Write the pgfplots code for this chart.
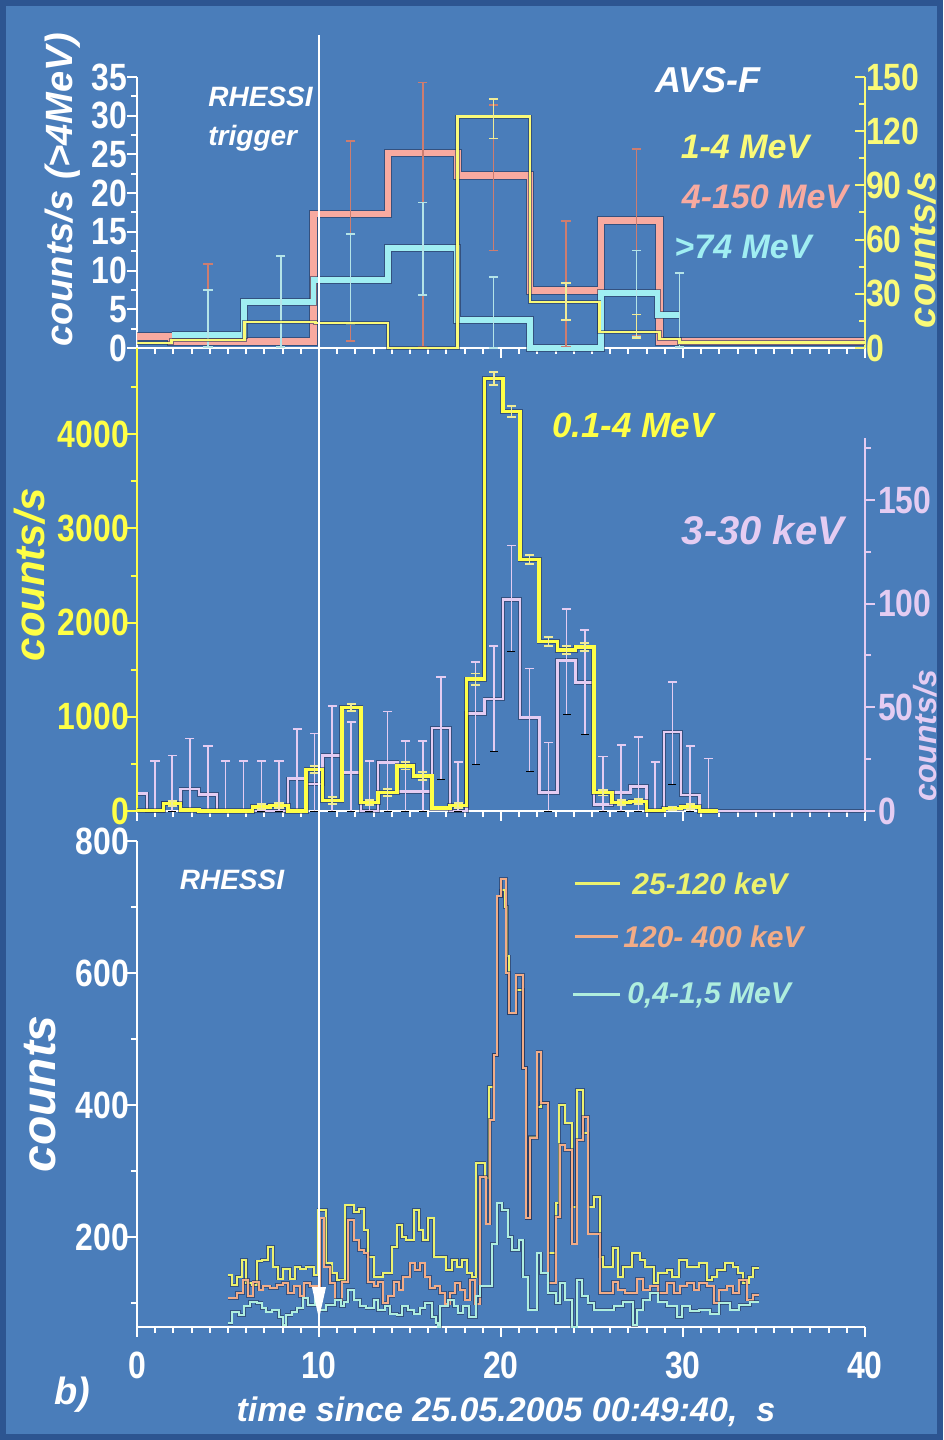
\documentclass[border=0pt]{standalone}
\usepackage{fontspec}
\setmainfont{Liberation Sans}
\newfontfamily\cnd{Liberation Sans}[FakeStretch=0.84]
\usepackage{pgfplots}
\usepackage{pgfplotstable}
\pgfplotsset{compat=1.18}
\usetikzlibrary{arrows.meta}

\definecolor{bgblue}{RGB}{74,125,186}
\definecolor{edgeblue}{RGB}{45,85,145}
\definecolor{avsred}{RGB}{248,170,160}
\definecolor{avscyan}{RGB}{160,238,242}
\definecolor{avsyellow}{RGB}{250,250,120}
\definecolor{errred}{RGB}{205,125,112}
\definecolor{errcyan}{RGB}{180,228,232}
\definecolor{erryellow}{RGB}{240,235,150}
\definecolor{hxyellow}{RGB}{255,255,70}
\definecolor{hxlav}{RGB}{228,204,242}
\definecolor{ryellow}{RGB}{236,242,110}
\definecolor{rorange}{RGB}{242,172,135}
\definecolor{rcyan}{RGB}{175,238,222}
\definecolor{shade}{RGB}{35,45,80}

% ---------- AVS-F, 4 s bins (left edge, rate) ----------
\pgfplotstableread{
x y
0 1.5
1.9 0.8
9.7 17.3
13.8 25.2
17.6 22.3
21.6 7.4
25.5 16.5
28.7 0.8
40 0.8
}\avsHigh
\pgfplotstableread{
x y
1.9 1.7
5.9 5.9
9.7 8.8
13.8 12.9
17.6 3.6
21.6 0
25.5 7.1
28.6 4.3
29.8 4.3
}\avsTop
\pgfplotstableread{
x y
0 2.8
1.9 4.4
5.9 14.4
9.8 13.8
13.8 0
17.6 128
21.6 25.5
25.4 8.9
28.7 5
29.8 3
40 3
}\avsLow
% error bars: centre, mid value, half length
\pgfplotstableread{
x y e
3.9 5.5 5.3
11.74 13.8 12.9
15.7 17.2 17.1
19.58 22.0 9.4
23.57 8.3 8.1
27.45 13.6 12.1
}\avsHighErr
\pgfplotstableread{
x y e
3.9 3.8 3.7
7.9 6.0 5.9
11.74 8.9 5.8
15.7 12.8 6.0
19.58 4.6 4.6
27.45 7.0 5.6
29.8 4.9 4.8
}\avsTopErr
\pgfplotstableread{
x y e
19.58 127 11
23.57 25.7 10.3
27.45 12 6.5
}\avsLowErr

% ---------- 0.1-4 MeV and 3-30 keV, 1 s bins ----------
\pgfplotstableread{
x y
0 5
1.45 80
2.4 10
3.4 0
6.35 45
7.3 60
8.3 0
9.3 440
10.2 110
11.25 1100
12.3 90
13.25 195
14.3 480
15.2 370
16.2 30
17.2 60
18.1 1400
19.1 4590
20.1 4240
21.05 2670
22.1 1800
23.1 1710
24.1 1740
25.1 195
26.1 90
27.1 100
28.0 5
28.95 28
29.9 45
30.9 0
31.9 0
}\hard
\pgfplotstableread{
x y e
1.93 80 30
6.83 45 25
7.8 60 25
9.75 440 40
10.72 110 35
11.77 1100 40
12.77 90 30
13.77 195 35
14.75 480 40
15.7 370 40
17.65 60 25
18.6 1400 60
19.6 4590 70
20.57 4240 60
21.57 2670 50
22.6 1800 45
23.6 1710 45
24.6 1740 45
25.6 195 30
26.6 90 25
27.55 100 25
29.42 28 20
30.4 45 25
}\hardErr
\pgfplotstableread{
x y
0 8.3
0.55 0
1.45 3.9
2.4 10.7
3.4 8
4.4 0
8.3 15.6
9.3 13
10.2 26.8
11.25 18.5
12.3 0
13.25 23.5
14.3 9.3
15.2 9.3
16.2 40
17.2 0
18.1 47
19.1 54
20.1 102
21.05 45
22.1 8.9
23.1 72.7
24.1 62
25.1 3
26.1 8.8
27.1 11.8
28.0 0
28.95 38
29.9 7.8
30.9 0
40 0
}\soft
\pgfplotstableread{
x y e
0.99 12 12
1.93 13.4 13.4
2.9 17.5 17.5
3.9 15.65 15.65
4.87 12 12
5.85 12 12
6.83 12 12
7.8 12 12
8.8 19.75 19.75
9.75 18.7 18.7
10.72 25.4 25.4
11.77 21.4 21.4
12.77 12 12
13.77 24 24
14.75 16.8 16.8
15.7 16.8 16.8
16.7 39.9 24.6
17.65 11.75 11.75
18.6 47.2 24.8
19.6 54.15 25.25
20.57 102.5 25.5
21.57 43.85 24.85
22.6 16.5 16.5
23.6 72.2 25.4
24.6 62.15 25.15
25.6 13.15 13.15
26.6 16 16
27.55 17.75 17.75
28.47 11.75 11.75
29.42 37.5 24.8
30.4 15.65 15.65
31.4 12.65 12.65
}\softErr

% ---------- RHESSI count rates ----------
\pgfplotstableread{
x y
5.0 142
5.2 127
5.5 140
5.75 165
6.0 130
6.3 127
6.6 163
6.85 165
7.2 185
7.5 155
7.75 137
8.0 152
8.4 137
8.7 155
8.95 152
9.3 155
9.7 142
9.96 241
10.4 160
10.7 145
11.0 135
11.45 248
11.9 238
12.2 243
12.5 210
12.7 170
13.0 140
13.5 145
14.0 185
14.3 218
14.55 200
14.8 195
15.2 241
15.5 210
15.7 195
16.0 228
16.3 170
16.65 170
17.0 150
17.3 165
17.6 155
17.85 165
18.15 145
18.4 140
18.65 312
19.1 290
19.35 428
19.6 476
19.8 716
20.0 725
20.2 700
20.35 625
20.45 539
20.85 574
21.2 456
21.4 228
21.6 352
22.0 397
22.2 403
22.6 175
23.0 251
23.2 400
23.5 372
23.9 246
24.15 423
24.5 357
24.8 246
25.1 261
25.45 170
25.6 155
26.15 183
26.45 140
26.7 155
27.2 175
27.65 165
27.9 155
28.4 130
28.65 145
29.1 150
29.4 140
29.8 165
30.2 155
30.9 160
31.3 135
31.6 140
31.85 150
32.3 160
32.75 155
33.0 145
33.3 130
33.6 140
33.85 153
34.15 153
}\rLow
\pgfplotstableread{
x y
5.0 107
5.5 115
5.85 135
6.1 110
6.4 132
6.7 120
6.9 125
7.3 122
7.7 127
8.0 130
8.3 115
8.6 125
8.95 110
9.2 130
9.5 125
9.9 110
10.05 228
10.3 155
10.6 130
10.9 105
11.25 132
11.6 226
11.9 195
12.2 180
12.5 175
12.7 132
13.0 125
13.25 132
13.5 100
13.8 110
14.1 132
14.4 120
14.6 140
15.0 160
15.3 150
15.55 160
15.8 140
16.1 122
16.4 125
16.65 115
16.95 99
17.2 115
17.5 130
17.75 120
18.0 105
18.3 135
18.55 99
18.85 291
19.2 220
19.4 377
19.6 476
19.8 716
20.0 743
20.3 600
20.45 539
20.85 597
21.2 456
21.4 228
21.6 350
22.0 481
22.2 403
22.6 130
23.0 230
23.25 340
23.5 332
23.9 190
24.15 347
24.5 382
24.8 205
25.1 205
25.45 115
26.15 132
26.45 120
26.8 115
27.45 137
27.8 120
28.2 125
28.65 115
29.1 130
29.5 115
29.85 125
30.2 130
30.6 120
30.9 130
31.3 125
31.7 100
32.0 120
32.4 125
32.75 115
33.1 135
33.5 105
33.85 112
34.15 112
}\rMid
\pgfplotstableread{
x y
5.0 69
5.2 87
5.6 82
5.9 95
6.2 102
6.6 100
6.85 92
7.1 87
7.4 89
7.8 79
8.0 67
8.2 82
8.5 87
8.8 92
9.1 107
9.4 97
9.8 110
10.05 89
10.4 97
10.9 105
11.2 95
11.4 102
11.6 120
11.9 105
12.25 95
12.6 92
13.0 105
13.25 89
13.6 95
13.9 84
14.3 82
14.55 95
14.9 89
15.2 84
15.55 92
15.8 100
16.2 79
16.45 69
16.55 64
16.65 95
17.1 105
17.4 95
17.65 85
17.9 95
18.25 79
18.65 110
18.85 125
19.5 190
19.8 251
20.05 241
20.4 200
20.6 180
21.0 195
21.2 140
21.5 90
22.0 175
22.2 145
22.6 115
23.0 100
23.25 130
23.5 105
23.9 64
24.15 135
24.45 110
24.8 100
25.1 90
25.44 90
26.2 95
26.7 102
27.25 66
27.45 90
27.8 105
28.2 115
28.65 102
29.1 95
29.65 79
29.95 95
30.4 88
30.9 90
31.5 84
32.0 100
32.6 90
33.1 97
33.7 102
34.15 102
}\rHigh

\pgfplotsset{
  base/.style={scale only axis, width=364pt, xmin=0, xmax=40, clip=false,
    /pgf/number format/assume math mode=true, /pgf/number format/1000 sep={},
    scaled ticks=false, axis line style={-, line width=1.2pt},
    major tick length=5pt, minor tick length=3pt, tick style={line width=1pt},
    anchor=south west},
  tl/.style={font=\cnd\bfseries\fontsize{19}{19}\selectfont, text=#1, inner ysep=0.5pt},
  step/.style={const plot, mark=none, line join=miter, draw=#1},
  halo/.style={preaction={draw=shade, draw opacity=0.55, line width=#1}},
  ebar/.style={draw=none, mark=none, forget plot,
    error bars/.cd, y dir=both, y explicit,
    error bar style={draw=#1, line width=0.8pt}},
  cap/.style={only marks, mark=-, mark size=2.3pt, forget plot,
    mark options={draw=#1, line width=0.9pt}},
}
% vertical bar with its two end caps, from one table of (x, mid, half length)
\newcommand\errbars[2]{%
  \addplot[ebar=#1] table[x=x,y=y,y error=e] {#2};
  \addplot[cap=#1] table[x=x,y expr=\thisrow{y}+\thisrow{e}] {#2};
  \addplot[cap=#1] table[x=x,y expr=\thisrow{y}-\thisrow{e}] {#2};
}

\begin{document}
\begin{tikzpicture}
\path[use as bounding box] (0,0) rectangle (471.5pt,720pt);
\fill[bgblue] (0,0) rectangle (471.5pt,720pt);
\draw[edgeblue, line width=3pt] (1.5pt,1.5pt) rectangle (470pt,718.5pt);

% ===== AVS-F, >4 MeV channels =====
\begin{axis}[base, height=135.5pt, at={(68.5pt,546pt)},
  ymin=0, ymax=35, axis x line*=bottom, axis y line*=left,
  axis line style={white}, tick style={white}, tick align=outside,
  xtick={0,10,...,40}, minor x tick num=9, xticklabel=\empty,
  ytick={0,5,...,35}, minor y tick num=1, yticklabel style={tl=white, xshift=3.5pt}]
\addplot[step=avsred, line width=3.3pt, halo=4.3pt] table[x=x,y=y] {\avsHigh};
\addplot[step=avscyan, line width=2.9pt, halo=3.9pt] table[x=x,y=y] {\avsTop};
\errbars{errred}{\avsHighErr}
\errbars{errcyan}{\avsTopErr}
\end{axis}
\begin{axis}[base, height=135.5pt, at={(68.5pt,546pt)},
  ymin=0, ymax=150, axis x line=none, axis y line*=right,
  axis line style={avsyellow}, tick style={avsyellow}, tick align=inside,
  ytick={0,30,...,150}, minor y tick num=1, yticklabel style={tl=avsyellow, xshift=-3pt}]
\addplot[step=avsyellow, line width=1.3pt, halo=2.2pt] table[x=x,y=y] {\avsLow};
\errbars{erryellow}{\avsLowErr}
\end{axis}

% ===== hard X-rays and soft X-rays =====
\begin{axis}[base, height=231.5pt, at={(68.5pt,314.5pt)},
  ymin=0, ymax=1, axis y line=none, axis x line*=bottom,
  axis line style={white}, tick style={white}, tick align=outside,
  xtick={0,10,...,40}, minor x tick num=9, xticklabel=\empty]
\end{axis}
\begin{axis}[base, height=231.5pt, at={(68.5pt,314.5pt)},
  ymin=0, ymax=223.3, axis x line=none, axis y line*=right,
  axis line style={draw=none}, tick style={hxlav}, tick align=outside,
  ytick={0,50,100,150}, minor ytick={25,75,125,175}, yticklabel style={tl=hxlav, xshift=-2pt}]
\addplot[step=hxlav, line width=1.3pt, halo=2.1pt] table[x=x,y=y] {\soft};
\addplot[ebar=hxlav] table[x=x,y=y,y error=e] {\softErr};
\addplot[cap=hxlav] table[x=x,y expr=\thisrow{y}+\thisrow{e}] {\softErr};
\draw[hxlav, line width=1.2pt] (axis cs:40,0) -- (axis cs:40,180);
\end{axis}
\begin{axis}[base, height=231.5pt, at={(68.5pt,314.5pt)},
  ymin=0, ymax=4916, axis x line=none, axis y line*=left,
  axis line style={hxyellow}, tick style={hxyellow}, tick align=outside,
  ytick={0,1000,...,4000}, minor ytick={500,1500,...,4500}, yticklabel style={tl=hxyellow, xshift=4.5pt}]
\addplot[step=hxyellow, line width=1.8pt, halo=2.6pt] table[x=x,y=y] {\hard};
\errbars{erryellow}{\hardErr}
\end{axis}

% ===== RHESSI =====
\begin{axis}[base, height=243pt, at={(68.5pt,56.5pt)},
  ymin=63.6, ymax=800, axis x line*=bottom, axis y line*=left,
  axis line style={white}, tick style={white}, tick align=outside,
  xtick={0,10,...,40}, minor x tick num=9,
  ytick={200,400,600,800}, minor ytick={100,300,500,700},
  yticklabel style={tl=white, xshift=4.5pt}, xticklabel style={tl=white, yshift=-7pt}]
\addplot[step=ryellow, line width=1pt, halo=1.7pt] table[x=x,y=y] {\rLow};
\addplot[step=rorange, line width=1pt, halo=1.7pt] table[x=x,y=y] {\rMid};
\addplot[step=rcyan, line width=1pt, halo=1.7pt] table[x=x,y=y] {\rHigh};
\fill[white] ([xshift=-3.5pt]axis cs:10,124) -- ([xshift=3.5pt]axis cs:10,124) -- (axis cs:10,76) -- cycle;
\end{axis}

% trigger time
\draw[white, line width=1pt] (159.5pt,702.5pt) -- (159.5pt,56.5pt);

% ===== labels =====
\newcommand\lab[1]{\bfseries\itshape\fontsize{#1}{#1}\selectfont}
\node[rotate=90, white, font=\lab{19}] at (31.5pt,625pt) {counts/s (>4MeV)};
\node[anchor=west, inner sep=0pt, white, font=\lab{14}] at (104pt,671.5pt) {RHESSI};
\node[anchor=west, inner sep=0pt, white, font=\lab{14}] at (104pt,651pt) {trigger};
\node[white, font=\lab{18}] at (354pt,680pt) {AVS-F};
\node[avsyellow, font=\lab{17}] at (372.5pt,646.5pt) {1-4 MeV};
\node[avsred, font=\lab{17}] at (382.5pt,621.5pt) {4-150 MeV};
\node[avscyan, font=\lab{17}] at (371.5pt,596.5pt) {>74 MeV};
\node[rotate=90, avsyellow, font=\lab{19}] at (461pt,595pt) {counts/s};

\node[rotate=90, hxyellow, font=\lab{21}] at (15pt,432.5pt) {counts/s};
\node[hxyellow, font=\lab{17.5}] at (316.5pt,507.5pt) {0.1-4 MeV};
\node[hxlav, font=\lab{20}] at (381.5pt,455pt) {3-30 keV};
\node[rotate=90, hxlav, font=\lab{16}] at (462.5pt,352pt) {counts/s};

\node[rotate=90, white, font=\lab{24}] at (20pt,173pt) {counts};
\node[white, font=\lab{14}] at (116pt,280pt) {RHESSI};
\draw[ryellow, line width=1.5pt] (287.5pt,278pt) -- (310pt,278pt);
\node[anchor=west, inner sep=0pt, ryellow, font=\lab{15}] at (316pt,278pt) {25-120 keV};
\draw[rorange, line width=1.5pt] (287.5pt,251.5pt) -- (309pt,251.5pt);
\node[anchor=west, inner sep=0pt, rorange, font=\lab{15}] at (311.5pt,251.5pt) {120- 400 keV};
\draw[rcyan, line width=1.5pt] (286.5pt,222.5pt) -- (310pt,222.5pt);
\node[anchor=west, inner sep=0pt, rcyan, font=\lab{15}] at (313.5pt,222.5pt) {0,4-1,5 MeV};

\node[white, font=\lab{19}] at (36pt,22.5pt) {b)};
\node[white, font=\lab{17}] at (253pt,14pt) {time since 25.05.2005 00:49:40,\ \ s};
\end{tikzpicture}
\end{document}
